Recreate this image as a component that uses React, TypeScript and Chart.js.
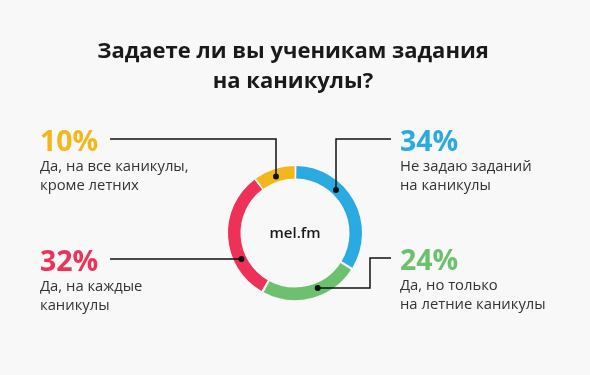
import React, { useEffect, useRef } from "react";
import { Chart, registerables } from "chart.js";

Chart.register(...registerables);

const TITLE_LINES = ["Задаете ли вы ученикам задания", "на каникулы?"];
const CATEGORIES = [
  "Не задаю заданий на каникулы",
  "Да, но только на летние каникулы",
  "Да, на каждые каникулы",
  "Да, на все каникулы, кроме летних",
];
const LABEL_LINES = [
  ["Не задаю заданий", "на каникулы"],
  ["Да, но только", "на летние каникулы"],
  ["Да, на каждые", "каникулы"],
  ["Да, на все каникулы,", "кроме летних"],
];
const VALUES = [34, 24, 32, 10];
const COLORS = ["#29ABE2", "#6DC16E", "#EE3157", "#F3B71B"];
const CENTER_TEXT = "mel.fm";

const BG = "#F8F8F8";
const FONT = "'Open Sans', sans-serif";

// callout layout: text anchor and leader path (last segment runs to the ring)
const CALLOUTS = [
  { tx: 400, ty: 151, pts: [[391, 139], [336, 139]], end: "v" },
  { tx: 400, ty: 270, pts: [[391, 258], [370, 258], [370, 288]], end: "h" },
  { tx: 40, ty: 271, pts: [[110, 259]], end: "h" },
  { tx: 40, ty: 151, pts: [[110, 139], [276, 139]], end: "v" },
];

const overlayPlugin = {
  id: "overlay",
  beforeDraw(chart: any) {
    const ctx = chart.ctx;
    ctx.save();
    ctx.fillStyle = BG;
    ctx.fillRect(0, 0, chart.width, chart.height);
    ctx.restore();
  },
  afterDraw(chart: any) {
    const ctx = chart.ctx;
    const meta = chart.getDatasetMeta(0);
    const arc0 = meta.data[0];
    const cx = arc0.x;
    const cy = arc0.y;
    const r = (arc0.innerRadius + arc0.outerRadius) / 2;
    ctx.save();
    // title
    ctx.fillStyle = "#1a1a1a";
    ctx.textAlign = "center";
    ctx.textBaseline = "alphabetic";
    ctx.font = `700 22px ${FONT}`;
    TITLE_LINES.forEach((t, i) => ctx.fillText(t, 293, 58 + i * 30));
    // center
    ctx.font = `600 15px ${FONT}`;
    ctx.fillText(CENTER_TEXT, cx, cy + 5);

    CALLOUTS.forEach((c, i) => {
      // percent
      ctx.textAlign = "left";
      ctx.fillStyle = COLORS[i];
      ctx.font = `700 28.5px ${FONT}`;
      ctx.fillText(`${VALUES[i]}%`, c.tx, c.ty);
      ctx.fillStyle = "#333333";
      ctx.font = `400 14.8px ${FONT}`;
      LABEL_LINES[i].forEach((t, j) => ctx.fillText(t, c.tx, c.ty + 20 + j * 19));
      // leader
      const last = c.pts[c.pts.length - 1];
      let dx: number, dy: number;
      if (c.end === "v") {
        const off = Math.sqrt(Math.max(r * r - (last[0] - cx) ** 2, 0));
        dx = last[0];
        dy = last[1] < cy ? cy - off : cy + off;
      } else {
        const off = Math.sqrt(Math.max(r * r - (last[1] - cy) ** 2, 0));
        dy = last[1];
        dx = last[0] < cx ? cx - off : cx + off;
      }
      ctx.strokeStyle = "#111111";
      ctx.lineWidth = 1.5;
      ctx.beginPath();
      ctx.moveTo(c.pts[0][0], c.pts[0][1]);
      c.pts.slice(1).forEach((p) => ctx.lineTo(p[0], p[1]));
      ctx.lineTo(dx, dy);
      ctx.stroke();
      ctx.fillStyle = "#111111";
      ctx.beginPath();
      ctx.arc(dx, dy, 3, 0, Math.PI * 2);
      ctx.fill();
    });
    ctx.restore();
  },
};

export default function App() {
  const ref = useRef<HTMLCanvasElement>(null);
  useEffect(() => {
    document.body.style.margin = "0";
    document.body.style.background = BG;
    const chart = new Chart(ref.current!, {
      type: "doughnut",
      data: {
        labels: CATEGORIES,
        datasets: [
          {
            data: VALUES,
            backgroundColor: COLORS,
            borderWidth: 0,
            spacing: 2.5,
          },
        ],
      },
      options: {
        responsive: false,
        animation: false,
        cutout: "81%",
        layout: { padding: { left: 228, right: 228, top: 166, bottom: 75 } },
        plugins: { legend: { display: false }, tooltip: { enabled: false } },
      },
      plugins: [overlayPlugin],
    });
    return () => chart.destroy();
  }, []);
  return (
    <div style={{ width: 590, height: 375 }}>
      <canvas ref={ref} width={590} height={375} style={{ display: "block" }} />
    </div>
  );
}
